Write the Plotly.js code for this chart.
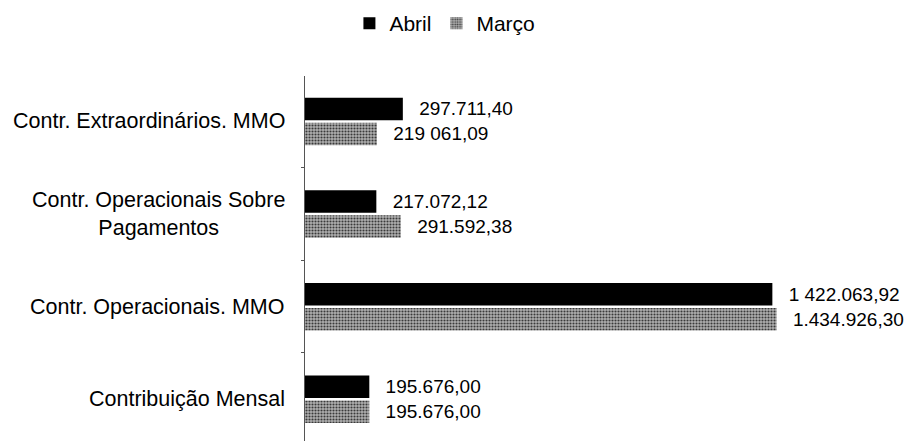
<!DOCTYPE html>
<html>
<head>
<meta charset="utf-8">
<script src="https://cdn.plot.ly/plotly-3.0.1.min.js"></script>
<style>html,body{margin:0;padding:0;background:#fff;}#chart{width:908px;height:441px;}</style>
</head>
<body>
<div id="chart"></div>
<script>
// Categories from bottom to top
const categories = ["Contribuição Mensal", "Contr. Operacionais. MMO", "Contr. Operacionais Sobre<br>Pagamentos", "Contr. Extraordinários. MMO"];
const abrilValues = [195676.00, 1422063.92, 217072.12, 297711.40];
const marcoValues = [195676.00, 1434926.30, 291592.38, 219061.09];
const abrilLabels = ["195.676,00", "1 422.063,92", "217.072,12", "297.711,40"];
const marcoLabels = ["195.676,00", "1.434.926,30", "291.592,38", "219 061,09"];

const FONT = '"Liberation Sans", Arial, sans-serif';

const catIdx = categories.map((c, i) => i);

const traces = [
  {
    type: 'bar', orientation: 'h', name: 'Março',
    y: catIdx, x: marcoValues, text: marcoLabels,
    texttemplate: '\u2002\u2009%{text}',
    textposition: 'outside', cliponaxis: false,
    textfont: {family: FONT, size: 19, color: '#000'},
    marker: {color: '#a0a0a0', line: {width: 0},
      pattern: {shape: '.', fgcolor: '#3a3a3a', bgcolor: '#b0b0b0', size: 3, solidity: 0.4}},
    legendrank: 2, hoverinfo: 'x'
  },
  {
    type: 'bar', orientation: 'h', name: 'Abril',
    y: catIdx, x: abrilValues, text: abrilLabels,
    texttemplate: '\u2002\u2009%{text}',
    textposition: 'outside', cliponaxis: false,
    textfont: {family: FONT, size: 19, color: '#000'},
    marker: {color: '#000', line: {width: 0}},
    legendrank: 1, hoverinfo: 'x'
  }
];

const annotations = categories.map((c, i) => ({
  xref: 'paper', yref: 'y', x: 0, y: i, xanchor: 'right', yanchor: 'middle',
  xshift: -18, text: c, showarrow: false, align: 'center',
  font: {family: FONT, size: 21.5, color: '#000'}
}));

const layout = {
  width: 908, height: 441,
  margin: {l: 305, r: 18, t: 76, b: 0},
  paper_bgcolor: '#fff', plot_bgcolor: '#fff',
  barmode: 'group', bargap: 0.46, bargroupgap: 0.1,
  showlegend: true,
  legend: {orientation: 'h', x: 0.49, xanchor: 'center', xref: 'container', y: 0.993, yref: 'container', yanchor: 'top',
    font: {family: FONT, size: 21, color: '#000'}, itemwidth: 30, tracegroupgap: 0},
  xaxis: {range: [0, 1780000], visible: false, showgrid: false, zeroline: false, fixedrange: true},
  yaxis: {range: [-0.45, 3.49], showticklabels: false, showgrid: false, zeroline: false,
    showline: true, linecolor: '#555', linewidth: 1, ticks: 'outside', ticklen: 3, tickcolor: '#555',
    tickvals: [-0.5, 0.5, 1.5, 2.5], fixedrange: true},
  annotations: annotations,
  font: {family: FONT, color: '#000'}
};

Plotly.newPlot('chart', traces, layout, {displayModeBar: false, staticPlot: true});
</script>
</body>
</html>
